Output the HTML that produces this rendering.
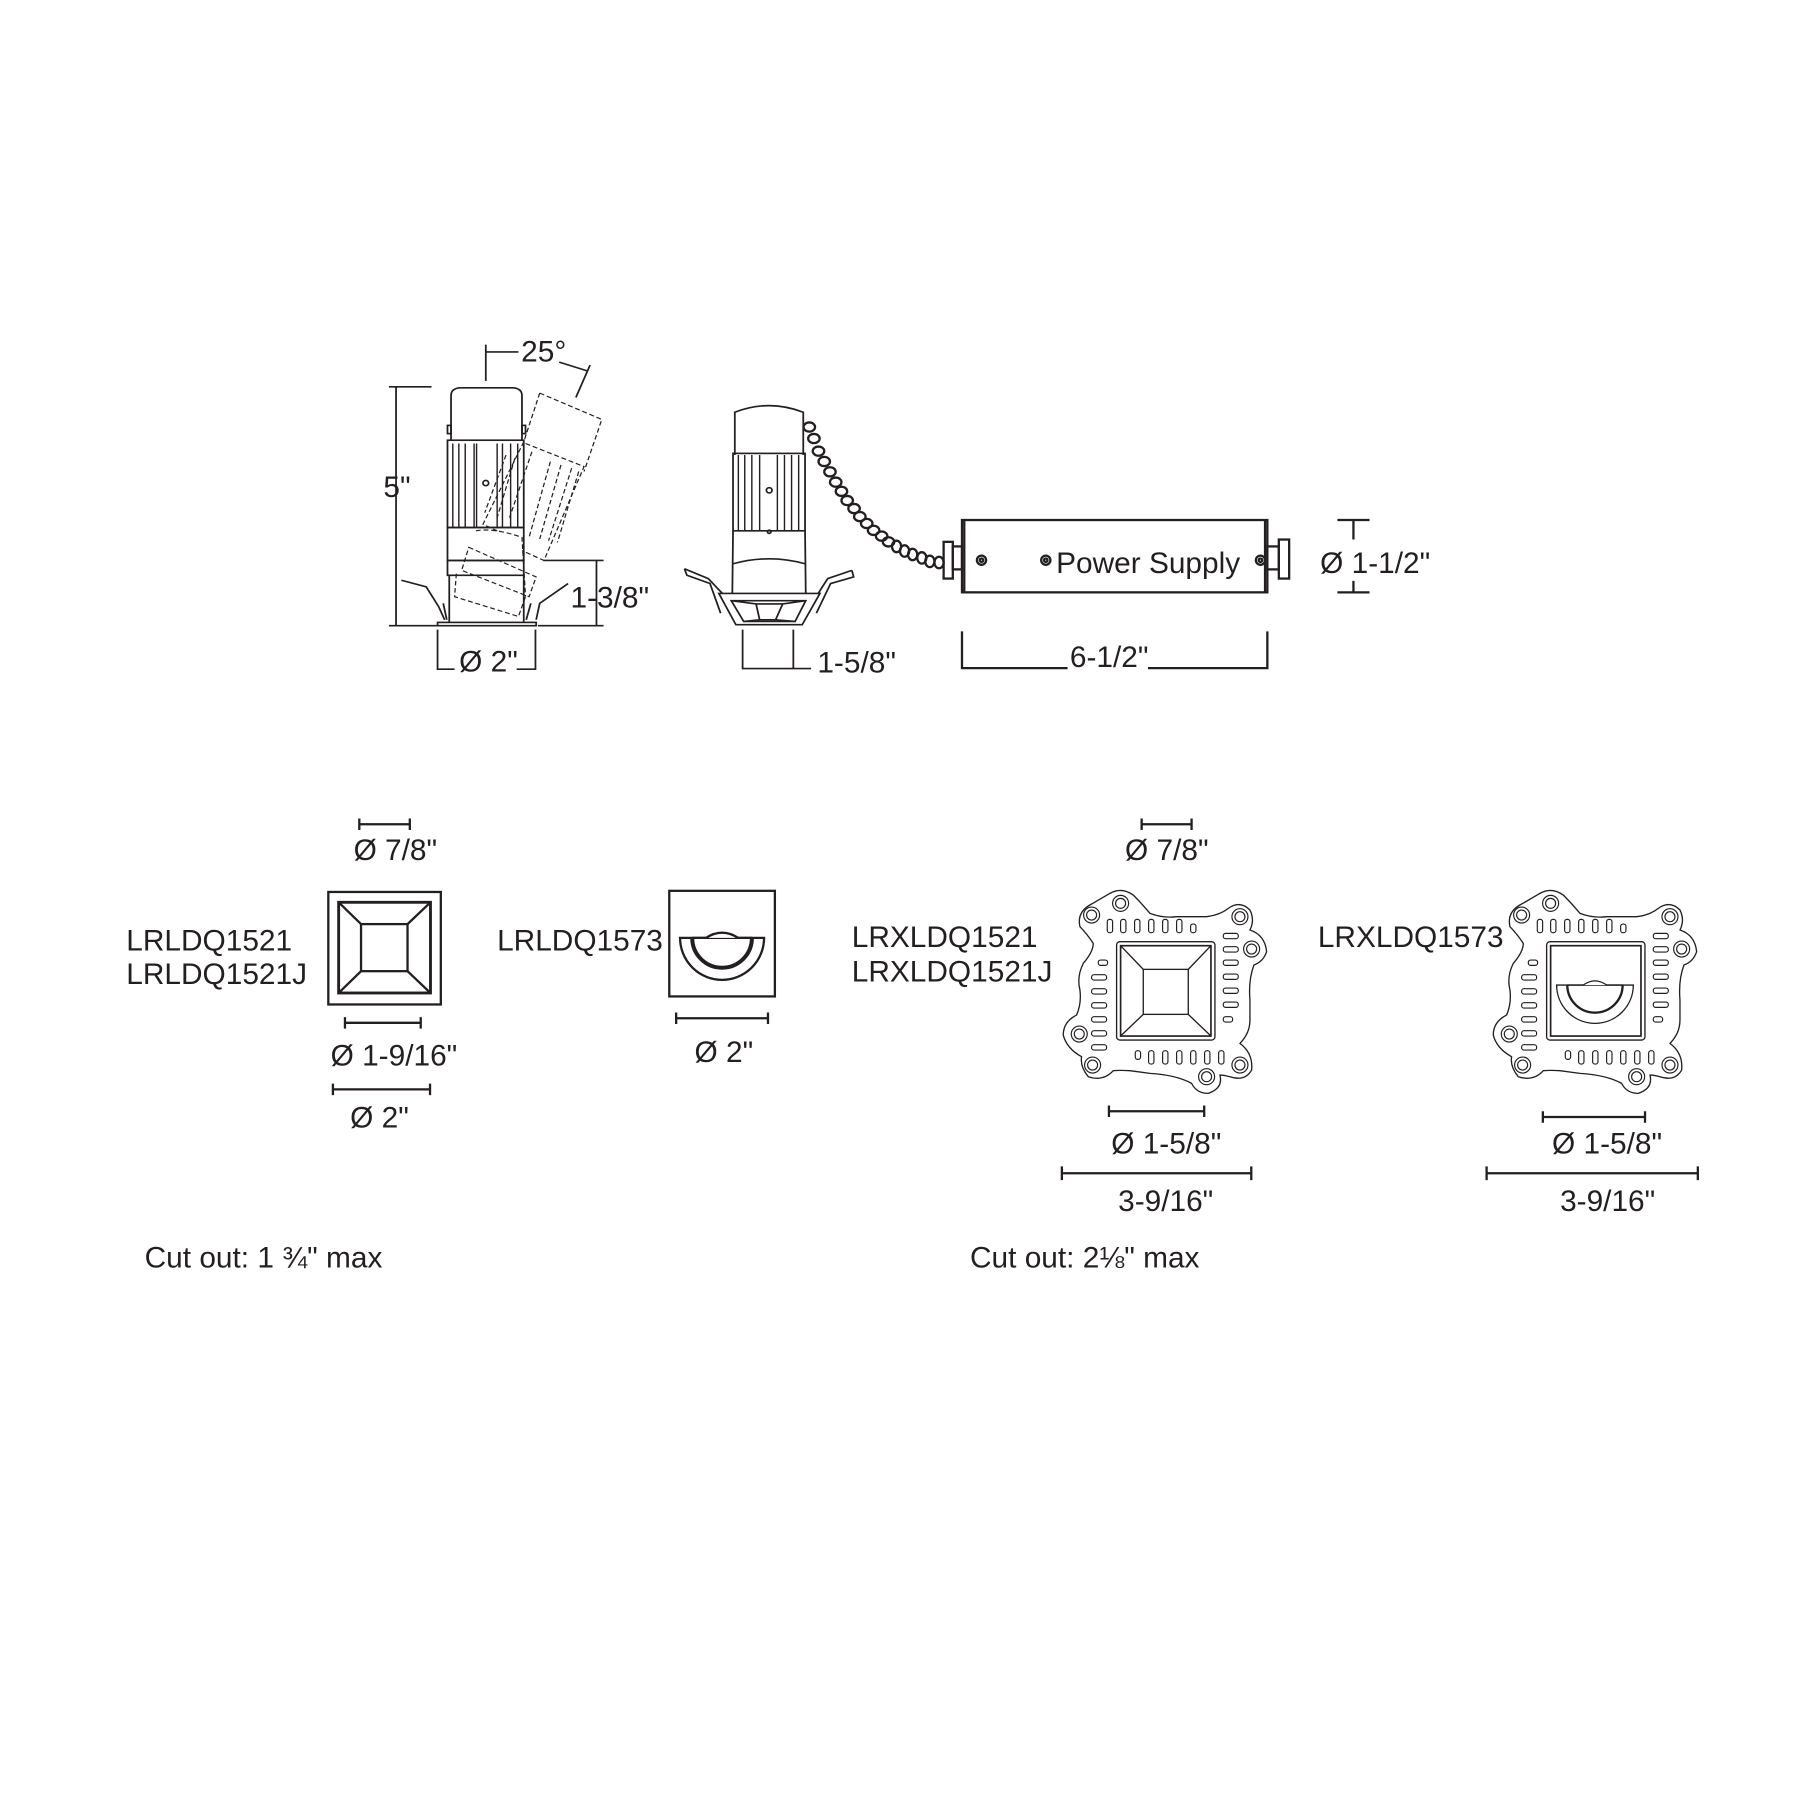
<!DOCTYPE html>
<html><head><meta charset="utf-8"><style>
html,body{margin:0;padding:0;background:#fff;width:1800px;height:1800px;overflow:hidden}
svg{display:block}
text{font-family:"Liberation Sans",sans-serif;fill:#231f20}
</style></head><body>
<svg width="1800" height="1800" viewBox="0 0 1568 1568" xmlns="http://www.w3.org/2000/svg">
<defs>
<g id="plate" fill="none" stroke="#231f20" stroke-width="4">
<path stroke-linejoin="round" d="M180,40 Q215,20 250,45 Q275,70 300,100 Q340,115 380,110 L470,110 Q510,105 535,85 Q570,60 600,90 Q615,120 600,150 Q645,165 650,215 Q640,245 612,255 Q595,300 600,360 L600,420 Q600,460 570,490 Q610,520 605,570 Q585,605 540,590 Q520,585 510,585 Q520,625 475,640 Q440,640 425,610 Q380,585 300,580 L240,572 Q210,570 190,572 Q160,605 115,590 Q90,560 95,530 Q50,505 40,465 Q40,425 80,405 Q95,370 90,330 Q80,290 100,250 Q130,215 130,190 Q110,160 90,140 Q80,95 125,72 Q155,55 180,40 Z"/>
<g stroke-width="3.5">
<circle cx="212" cy="70" r="24"/><circle cx="212" cy="70" r="15"/>
<circle cx="125" cy="105" r="24"/><circle cx="125" cy="105" r="15"/>
<circle cx="570" cy="110" r="24"/><circle cx="570" cy="110" r="15"/>
<circle cx="605" cy="207" r="24"/><circle cx="605" cy="207" r="15"/>
<circle cx="88" cy="462" r="24"/><circle cx="88" cy="462" r="15"/>
<circle cx="128" cy="555" r="24"/><circle cx="128" cy="555" r="15"/>
<circle cx="470" cy="590" r="24"/><circle cx="470" cy="590" r="15"/>
<circle cx="570" cy="555" r="24"/><circle cx="570" cy="555" r="15"/>
<rect x="172" y="118" width="16" height="40" rx="7"/><rect x="212" y="118" width="16" height="40" rx="7"/><rect x="254" y="118" width="16" height="40" rx="7"/><rect x="296" y="118" width="16" height="40" rx="7"/><rect x="338" y="118" width="16" height="40" rx="7"/><rect x="380" y="118" width="16" height="40" rx="7"/><rect x="422" y="132" width="16" height="26" rx="7"/>
<rect x="520" y="160" width="45" height="16" rx="7"/><rect x="520" y="200" width="45" height="16" rx="7"/><rect x="520" y="240" width="45" height="16" rx="7"/><rect x="520" y="282" width="45" height="16" rx="7"/><rect x="520" y="324" width="45" height="16" rx="7"/><rect x="520" y="366" width="45" height="16" rx="7"/><rect x="520" y="410" width="28" height="16" rx="7"/>
<rect x="145" y="240" width="28" height="16" rx="7"/><rect x="125" y="284" width="45" height="16" rx="7"/><rect x="125" y="326" width="45" height="16" rx="7"/><rect x="125" y="368" width="45" height="16" rx="7"/><rect x="125" y="410" width="45" height="16" rx="7"/><rect x="125" y="452" width="45" height="16" rx="7"/><rect x="125" y="494" width="45" height="16" rx="7"/>
<rect x="256" y="512" width="16" height="26" rx="7"/><rect x="296" y="512" width="16" height="40" rx="7"/><rect x="338" y="512" width="16" height="40" rx="7"/><rect x="380" y="512" width="16" height="40" rx="7"/><rect x="422" y="512" width="16" height="40" rx="7"/><rect x="464" y="512" width="16" height="40" rx="7"/><rect x="506" y="512" width="16" height="40" rx="7"/>
</g>
<rect x="200" y="185" width="295" height="295" rx="10" stroke-width="4"/>
<rect x="212" y="197" width="271" height="271" stroke-width="5"/>
</g>
</defs>

<g transform="translate(331.1,290.2) scale(0.309,0.287)" fill="none" stroke="#231f20" stroke-width="5">
<line x1="45" y1="163" x2="45" y2="888"/><line x1="25" y1="163" x2="145" y2="163"/><line x1="25" y1="888" x2="160" y2="888"/>
<line x1="298" y1="145" x2="298" y2="35"/><line x1="298" y1="57" x2="390" y2="57"/>
<line x1="505" y1="88" x2="585" y2="115"/><line x1="592" y1="97" x2="552" y2="195"/>
<path d="M200,325 L200,190 Q200,168 225,166 L375,166 Q400,168 400,190 L400,325"/>
<rect x="190" y="280" width="10" height="25"/><rect x="400" y="280" width="10" height="25"/>
<rect x="190" y="325" width="215" height="265"/>
<path d="M205,335V590M222,335V590M240,335V590M265,335V590M272,335V590M330,335V590M345,335V590M368,335V590M388,335V590" stroke-width="4"/>
<circle cx="298" cy="455" r="8"/>
<rect x="190" y="590" width="215" height="100"/>
<rect x="190" y="690" width="215" height="45"/>
<path d="M195,735 L195,878 M405,735 L405,878"/>
<rect x="162" y="878" width="278" height="10"/>
<path d="M60,750 L130,770 L165,830 L182,870 M188,870 L178,820"/>
<path d="M440,870 L450,820 L530,760 M412,870 L425,820"/>
<g stroke-dasharray="14,8" stroke-width="3.5">
<path d="M450,182 L625,262 L575,420 M410,335 L575,405 L462,690 L400,660"/>
<path d="M450,182 L405,330 L290,580 L330,600"/>
<path d="M355,370 L295,545 M380,380 L330,560 M428,360 L365,560 M480,390 L420,620 M510,400 L450,625 M540,410 L475,630 M560,420 L500,635"/>
<path d="M250,650 L440,740 L420,800 L230,720 Z"/>
<path d="M215,730 L210,800 L390,860 L410,800"/>
<path d="M270,600 Q320,590 400,620 L410,800"/>
</g>
<line x1="610" y1="690" x2="610" y2="888"/><line x1="460" y1="690" x2="630" y2="690"/><line x1="445" y1="888" x2="630" y2="888"/>
<path d="M162,900 L162,1020 L210,1020 M385,1020 L438,1020 L438,900"/>
<path d="M1000,370 L1000,240 Q1095,200 1193,240 L1193,370"/>
<rect x="995" y="365" width="203" height="235"/>
<path d="M1010,370V600M1028,370V600M1048,370V600M1070,370V600M1120,370V600M1140,370V600M1160,370V600M1180,370V600" stroke-width="4"/>
<circle cx="1097" cy="477" r="8"/><circle cx="1097" cy="603" r="5"/>
<path d="M995,600 L993,790 M1198,600 L1200,790 M995,700 Q1097,670 1198,700"/>
<path d="M985,790 L955,790 L1003,885 L1190,885 L1240,790 Z"/>
<path d="M990,812 L1200,812 L1170,875 L1025,875 Z"/>
<path d="M1060,822 L1135,822 L1115,870 L1070,870 Z M990,812 L1060,822 M1200,812 L1135,822 M1025,875 L1070,870 M1170,875 L1115,870"/>
<path d="M858,715 L865,735 L930,760 L960,850 M858,715 L925,745 L965,790"/>
<path d="M1330,720 L1335,740 L1270,760 L1230,850 M1330,720 L1262,745 L1235,790"/>
<path d="M1022,900 L1022,1018 L1165,1018 L1165,900 M1165,1018 L1215,1018"/>
</g>
<text x="334" y="433" font-size="26">5"</text>
<text x="454" y="315" font-size="26">25°</text>
<text x="497" y="529" font-size="26">1-3/8"</text>
<text x="400" y="585" font-size="26">Ø 2"</text>
<text x="712" y="586" font-size="26">1-5/8"</text>

<g fill="none" stroke="#231f20" stroke-width="2">
<ellipse cx="705" cy="372" rx="5" ry="4"/><ellipse cx="709" cy="382" rx="5" ry="4"/><ellipse cx="713" cy="393" rx="5" ry="4"/><ellipse cx="718" cy="402" rx="5" ry="4"/><ellipse cx="723" cy="411" rx="5" ry="4"/><ellipse cx="728" cy="420" rx="5" ry="4"/><ellipse cx="733" cy="428" rx="5" ry="4"/><ellipse cx="738" cy="436" rx="5" ry="4"/><ellipse cx="744" cy="443" rx="5" ry="4"/><ellipse cx="749" cy="450" rx="5" ry="4"/><ellipse cx="755" cy="456" rx="5" ry="4"/><ellipse cx="761" cy="462" rx="5" ry="4"/><ellipse cx="768" cy="467" rx="5" ry="4"/><ellipse cx="774" cy="472" rx="5" ry="4"/><ellipse cx="781" cy="476" rx="4" ry="5"/><ellipse cx="788" cy="480" rx="4" ry="5"/><ellipse cx="795" cy="483" rx="4" ry="5"/><ellipse cx="803" cy="486" rx="4" ry="5"/><ellipse cx="810" cy="489" rx="4" ry="5"/><ellipse cx="818" cy="490" rx="4" ry="5"/>
</g>
<g fill="none" stroke="#231f20" stroke-width="2">
<rect x="838" y="453" width="266" height="63"/>
<line x1="840" y1="453" x2="840" y2="516"/><line x1="1102" y1="453" x2="1102" y2="516"/>
<rect x="830" y="476" width="8" height="20"/><rect x="822" y="472" width="8" height="32"/>
<rect x="1104" y="476" width="10" height="20"/><rect x="1114" y="470" width="9" height="34"/>
<circle cx="855" cy="488" r="4"/><circle cx="855" cy="488" r="1.5"/>
<circle cx="911" cy="488" r="4"/><circle cx="911" cy="488" r="1.5"/>
<circle cx="1098" cy="488" r="4"/><circle cx="1098" cy="488" r="1.5"/>
<path d="M1165,453 L1193,453 M1165,516 L1193,516 M1179,453 L1179,470 M1179,506 L1179,516"/>
<path d="M838,550 L838,582 L930,582 M1000,582 L1104,582 L1104,550"/>
</g>
<text x="920" y="499" font-size="26">Power Supply</text>
<text x="1150" y="499" font-size="26">Ø 1-1/2"</text>
<text x="932" y="581" font-size="26">6-1/2"</text>

<g fill="none" stroke="#231f20" stroke-width="2">
<path d="M313,718 H357 M313,713V723 M357,713V723"/>
<rect x="286" y="777" width="98" height="98"/>
<rect x="295" y="786" width="80" height="79" stroke-width="2.5"/>
<rect x="314.5" y="805" width="40.5" height="41"/>
<path d="M295,786 L314.5,805 M375,786 L355,805 M295,865 L314.5,846 M375,865 L355,846"/>
<path d="M300.5,891 H366.5 M300.5,886V896 M366.5,886V896"/>
<path d="M290,949 H374.6 M290,944V954 M374.6,944V954"/>
<rect x="583" y="776" width="92" height="92"/>
<path d="M592.4,817 A36.6,36.6 0 0 0 665.6,817 Z"/>
<path d="M603,817 A26,26 0 0 0 655,817" stroke-width="3.5"/>
<path d="M603,817 L615,817 Q629,808 643,817 L655,817" fill="#fff"/>
<path d="M589,887 H669 M589,882V892 M669,882V892"/>
<path d="M994.5,718 H1038 M994.5,713V723 M1038,713V723"/>
<path d="M966,968 H1049 M966,963V973 M1049,963V973"/>
<path d="M925,1022 H1090 M925,1016V1028 M1090,1016V1028"/>
<path d="M1344,973 H1433 M1344,968V978 M1433,968V978"/>
<path d="M1295,1022 H1479 M1295,1016V1028 M1479,1016V1028"/>
</g>
<g transform="translate(914.6,766.6) scale(0.2904)">
<use href="#plate"/>
<g fill="none" stroke="#231f20" stroke-width="4">
<rect x="280" y="268" width="135" height="135"/>
<path d="M212,197 L280,268 M483,197 L415,268 M212,468 L280,403 M483,468 L415,403"/>
</g>
</g>
<g transform="translate(1289.2,766.6) scale(0.2904)">
<use href="#plate"/>
<g fill="none" stroke="#231f20" stroke-width="4">
<path d="M230,315 A115,115 0 0 0 460,315 Z"/>
<path d="M262,315 A83,83 0 0 0 428,315" stroke-width="7"/>
<path d="M262,315 L310,315 Q345,290 380,315 L428,315" fill="#fff"/>
</g>
</g>

<g font-size="26">
<text x="110" y="828">LRLDQ1521</text>
<text x="110" y="857">LRLDQ1521J</text>
<text x="308" y="749">Ø 7/8"</text>
<text x="288" y="928">Ø 1-9/16"</text>
<text x="305" y="982">Ø 2"</text>
<text x="433" y="828">LRLDQ1573</text>
<text x="605" y="925">Ø 2"</text>
<text x="742" y="825">LRXLDQ1521</text>
<text x="742" y="855">LRXLDQ1521J</text>
<text x="980" y="749">Ø 7/8"</text>
<text x="968" y="1005">Ø 1-5/8"</text>
<text x="974" y="1055">3-9/16"</text>
<text x="1148" y="825">LRXLDQ1573</text>
<text x="1352" y="1005">Ø 1-5/8"</text>
<text x="1359" y="1055">3-9/16"</text>
<text x="126" y="1104">Cut out: 1 ¾" max</text>
<text x="845" y="1104">Cut out: 2⅛" max</text>
</g>
</svg>
</body></html>
